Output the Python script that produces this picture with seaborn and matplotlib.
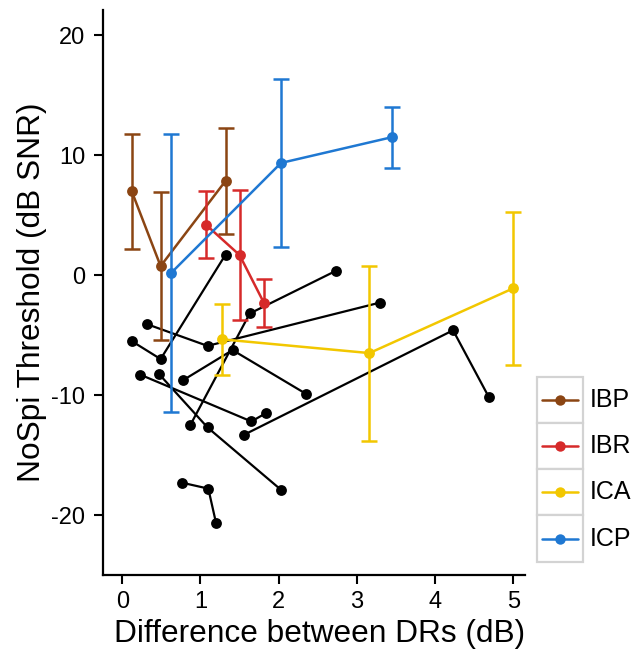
import numpy as np
import pandas as pd
import matplotlib
matplotlib.use("Agg")
import matplotlib.pyplot as plt
import seaborn as sns
from matplotlib.patches import Rectangle

# ---- individual listeners (black) ----
subj_ids = ["A", "A", "A", "B", "B", "B", "C", "C", "C", "D", "D", "D",
            "E", "E", "E", "F", "F", "F", "G", "G", "G", "H", "H", "H"]
subj_x = [0.12, 0.49, 1.32, 0.32, 1.09, 3.29, 0.23, 1.65, 1.84, 0.47, 1.09, 2.03,
          0.78, 1.41, 2.35, 0.87, 1.63, 2.73, 1.56, 4.23, 4.69, 0.76, 1.10, 1.20]
subj_y = [-5.5, -7.0, 1.7, -4.1, -5.9, -2.3, -8.3, -12.2, -11.5, -8.25, -12.7, -17.9,
          -8.75, -6.25, -9.9, -12.5, -3.2, 0.35, -13.3, -4.6, -10.2, -17.3, -17.8, -20.7]

# ---- group means with error bars ----
groups = ["IBP", "IBR", "ICA", "ICP"]
ibp_x = [0.12, 0.49, 1.32]
ibp_y = [7.0, 0.75, 7.85]
ibp_e = [4.8, 6.15, 4.4]
ibr_x = [1.07, 1.50, 1.81]
ibr_y = [4.2, 1.67, -2.3]
ibr_e = [2.8, 5.4, 2.0]
ica_x = [1.27, 3.16, 5.00]
ica_y = [-5.35, -6.5, -1.1]
ica_e = [2.95, 7.3, 6.4]
icp_x = [0.62, 2.03, 3.45]
icp_y = [0.15, 9.35, 11.5]
icp_e = [11.6, 7.0, 2.55]

colors = {"IBP": "#8B4513", "IBR": "#D62A2A", "ICA": "#F2C700", "ICP": "#1F78D2"}

x_ticks = [0, 1, 2, 3, 4, 5]
y_ticks = [-20, -10, 0, 10, 20]

sns.set_style("ticks")
plt.rcParams["font.family"] = ["Liberation Sans", "DejaVu Sans"]
plt.rcParams["text.color"] = "black"
plt.rcParams["axes.labelcolor"] = "black"
plt.rcParams["xtick.color"] = "black"
plt.rcParams["ytick.color"] = "black"

fig = plt.figure(figsize=(6.37, 6.58), dpi=100)
W, H = 637, 658
ax = fig.add_axes([103.3 / W, 83 / H, (525 - 103.3) / W, (575 - 10) / H])

df_subj = pd.DataFrame({"subject": subj_ids, "x": subj_x, "y": subj_y})
sns.lineplot(data=df_subj, x="x", y="y", units="subject", estimator=None, sort=False,
             color="black", marker="o", markersize=7.8, markeredgewidth=0,
             linewidth=1.6, ax=ax, legend=False, zorder=2)

series = {"IBP": (ibp_x, ibp_y, ibp_e), "IBR": (ibr_x, ibr_y, ibr_e),
          "ICA": (ica_x, ica_y, ica_e), "ICP": (icp_x, icp_y, icp_e)}
rows = []
for g in groups:
    xs, ys, es = series[g]
    for xv, yv, ev in zip(xs, ys, es):
        rows.append({"group": g, "x": xv, "y": yv, "err": ev})
df_g = pd.DataFrame(rows)

for i, g in enumerate(groups):
    sub = df_g[df_g.group == g]
    ax.errorbar(sub.x, sub.y, yerr=sub.err, fmt="none", ecolor=colors[g],
                elinewidth=1.8, capsize=5.8, capthick=1.8, zorder=3 + i)
    sns.lineplot(data=sub, x="x", y="y", color=colors[g], marker="o",
                 markersize=7.8, markeredgewidth=0, linewidth=1.8, ax=ax,
                 legend=False, zorder=3 + i)

ax.set_xlim(-0.243, 5.15)
ax.set_ylim(-25, 22.1)
ax.set_xticks(x_ticks)
ax.set_yticks(y_ticks)
ax.set_xticklabels([str(v) for v in x_ticks])
ax.set_yticklabels([str(v) for v in y_ticks])
ax.tick_params(axis="both", labelsize=17, length=6.5, width=1.5, colors="black",
               direction="out")
ax.tick_params(axis="y", pad=6.5)
ax.tick_params(axis="x", pad=5)
for s in ["top", "right"]:
    ax.spines[s].set_visible(False)
for s in ["left", "bottom"]:
    ax.spines[s].set_linewidth(1.6)
    ax.spines[s].set_color("black")
ax.set_xlabel("Difference between DRs (dB)", fontsize=22.8, labelpad=4)
ax.xaxis.label.set_x(0.514)
ax.set_ylabel("NoSpi Threshold (dB SNR)", fontsize=22.8, labelpad=3)

# ---- legend (boxed handles, labels outside) ----
lx0, lx1 = 536.7, 583.3
ly0, ly1 = 376.7, 561.7
lax = fig.add_axes([lx0 / W, (H - ly1) / H, (lx1 - lx0) / W, (ly1 - ly0) / H])
lax.set_xlim(0, 1)
lax.set_ylim(0, 4)
lax.axis("off")
for i, g in enumerate(groups):
    yb = 3 - i
    lax.add_patch(Rectangle((0, yb), 1, 1, facecolor="white", edgecolor="#d3d3d3",
                            linewidth=1.6, clip_on=False))
    lax.plot([0.11, 0.89], [yb + 0.5, yb + 0.5], color=colors[g], linewidth=1.8,
             clip_on=False)
    lax.plot([0.5], [yb + 0.5], marker="o", color=colors[g], markersize=7.5,
             markeredgewidth=0, clip_on=False)
    lax.text(1.14, yb + 0.5, g, fontsize=18, va="center", ha="left",
             transform=lax.transData, clip_on=False)

fig.savefig("out.png", dpi=100)
